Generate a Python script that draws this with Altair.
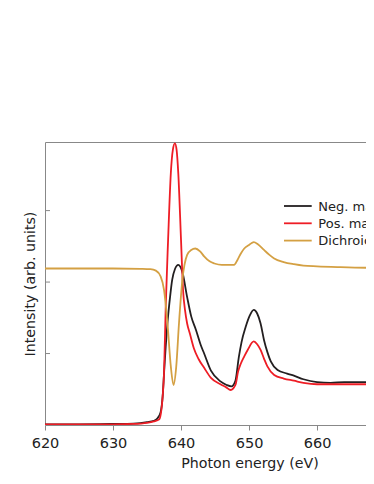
import altair as alt
import pandas as pd

names = ["Neg. magnetization", "Pos. magnetization", "Dichroic contrast"]
colors = ["#231f20", "#ee1d25", "#d4a043"]

neg_x = [620, 625, 630, 633, 635, 636, 636.5, 637.0, 637.3, 637.5, 637.75, 638.0, 638.4, 638.7,
         639.1, 639.6, 640.2, 640.9, 641.5, 642.2, 642.9, 643.4, 644.4, 645.8, 646.7, 647.4,
         648.0, 648.5, 648.9, 649.5, 650.1, 650.7, 651.2, 651.7, 652.2, 652.7, 653.2, 654.2,
         655.6, 656.6, 658, 660, 662, 664, 666, 668, 672, 680]
neg_y = [0.01, 0.01, 0.015, 0.02, 0.04, 0.06, 0.09, 0.18, 0.4, 0.72, 1.1, 1.42, 1.8, 2.03,
         2.18, 2.24, 2.14, 1.79, 1.52, 1.33, 1.12, 1.0, 0.76, 0.61, 0.56, 0.54,
         0.62, 0.95, 1.16, 1.37, 1.53, 1.61, 1.56, 1.42, 1.19, 1.02, 0.89, 0.77,
         0.72, 0.69, 0.64, 0.60, 0.59, 0.60, 0.60, 0.60, 0.60, 0.60]

pos_x = [620, 630, 633, 635, 636, 636.8, 637.1, 637.3, 637.5, 637.75, 638.1, 638.5, 638.8,
         639.1, 639.35, 639.6, 640.0, 640.3, 640.6, 640.9, 641.3, 641.9, 642.6, 643.4, 644.4,
         645.8, 646.6, 647.3, 648.0, 648.4, 648.8, 649.3, 649.8, 650.7, 651.2, 651.7, 652.2,
         652.7, 653.7, 655.1, 656.6, 658, 660, 663, 666, 670, 680]
pos_y = [0.01, 0.01, 0.015, 0.03, 0.05, 0.08, 0.2, 0.4, 0.72, 1.65, 2.59, 3.52, 3.85,
         3.94, 3.85, 3.52, 2.59, 1.89, 1.6, 1.42, 1.28, 1.07, 0.92, 0.80, 0.66,
         0.57, 0.53, 0.49, 0.56, 0.75, 0.86, 0.96, 1.05, 1.17, 1.13, 1.05, 0.93,
         0.82, 0.70, 0.65, 0.62, 0.59, 0.57, 0.57, 0.57, 0.57, 0.57]

dic_x = [620, 630, 634, 635.5, 636.3, 637.0, 637.5, 638.0, 638.5, 638.9, 639.3, 639.7, 640.2,
         640.9, 641.5, 642.1, 642.8, 643.4, 644.2, 644.9, 646, 647.8, 648.3, 648.8, 649.3, 650.0,
         650.7, 651.3, 652.2, 653.0, 653.7, 655.1, 656.6, 658, 660, 663, 668, 680]
dic_y = [2.19, 2.19, 2.185, 2.18, 2.16, 2.08, 1.89, 1.43, 0.82, 0.56, 0.82, 1.42, 2.03,
         2.38, 2.45, 2.47, 2.43, 2.36, 2.29, 2.26, 2.24, 2.24, 2.31, 2.40, 2.47, 2.52,
         2.56, 2.53, 2.45, 2.38, 2.33, 2.28, 2.25, 2.23, 2.22, 2.21, 2.20, 2.20]

x_ticks = [620, 630, 640, 650, 660]
y_ticks = [1, 2, 3]

rows = []
for name, xs, ys in [(names[0], neg_x, neg_y), (names[1], pos_x, pos_y), (names[2], dic_x, dic_y)]:
    for xv, yv in zip(xs, ys):
        rows.append({"series": name, "energy": xv, "value": yv})
df = pd.DataFrame(rows)
tick_df = pd.DataFrame({"t": y_ticks})
legend_df = pd.DataFrame({"series": names, "rank": list(range(len(names)))})

xscale = alt.Scale(domain=[620, 667.2], nice=False, zero=False)
yscale = alt.Scale(domain=[0, 3.96], nice=False, zero=False)
cscale = alt.Scale(domain=names, range=colors)

y_axis = alt.Axis(ticks=False, labels=False, domain=False, grid=False,
                  title="Intensity (arb. units)", titleX=-10.7, titleY=141.5,
                  titleBaseline="alphabetic", titleAngle=270)

lines = alt.Chart(df).mark_line(strokeWidth=1.8, interpolate="monotone", clip=True).encode(
    x=alt.X("energy:Q", scale=xscale,
            axis=alt.Axis(values=x_ticks, title="Photon energy (eV)", grid=False, domain=False,
                          tickSize=5, tickColor="#888888", labelPadding=6, labelFlush=False,
                          titleX=204.5, titleY=42, titleBaseline="alphabetic")),
    y=alt.Y("value:Q", scale=yscale, axis=y_axis),
    color=alt.Color("series:N", sort=names, scale=cscale, legend=None),
    order=alt.Order("energy:Q"),
)

yt = alt.Chart(tick_df).mark_rule(color="#888888", strokeWidth=1).encode(
    y=alt.Y("t:Q", scale=yscale, axis=None),
    x=alt.value(0),
    x2=alt.value(5),
)

leg_y = alt.Y("rank:Q", scale=alt.Scale(domain=[0, 2], range=[64, 98.6]), axis=None)

leg_lines = alt.Chart(legend_df).mark_rule(strokeWidth=1.8).encode(
    y=leg_y,
    x=alt.value(239),
    x2=alt.value(266.7),
    color=alt.Color("series:N", sort=names, scale=cscale, legend=None),
)

leg_text = alt.Chart(legend_df).mark_text(
    align="left", baseline="alphabetic", dy=4.7, font="DejaVu Sans", fontSize=13, color="#222222"
).encode(
    y=leg_y,
    x=alt.value(273.3),
    text="series:N",
)

chart = alt.layer(yt, lines, leg_lines, leg_text).resolve_scale(y="independent").properties(
    width=321, height=283,
    autosize=alt.AutoSizeParams(type="none"),
    padding={"left": 37, "top": 134, "right": 0, "bottom": 50},
).configure_view(stroke="#888888", strokeWidth=1).configure_axis(
    labelFont="DejaVu Sans", labelFontSize=14.5, labelColor="#222222",
    titleFont="DejaVu Sans", titleFontSize=14.2, titleFontWeight="normal", titleColor="#222222",
)

chart.save("out.html", embed_options={"renderer": "svg", "actions": False})
